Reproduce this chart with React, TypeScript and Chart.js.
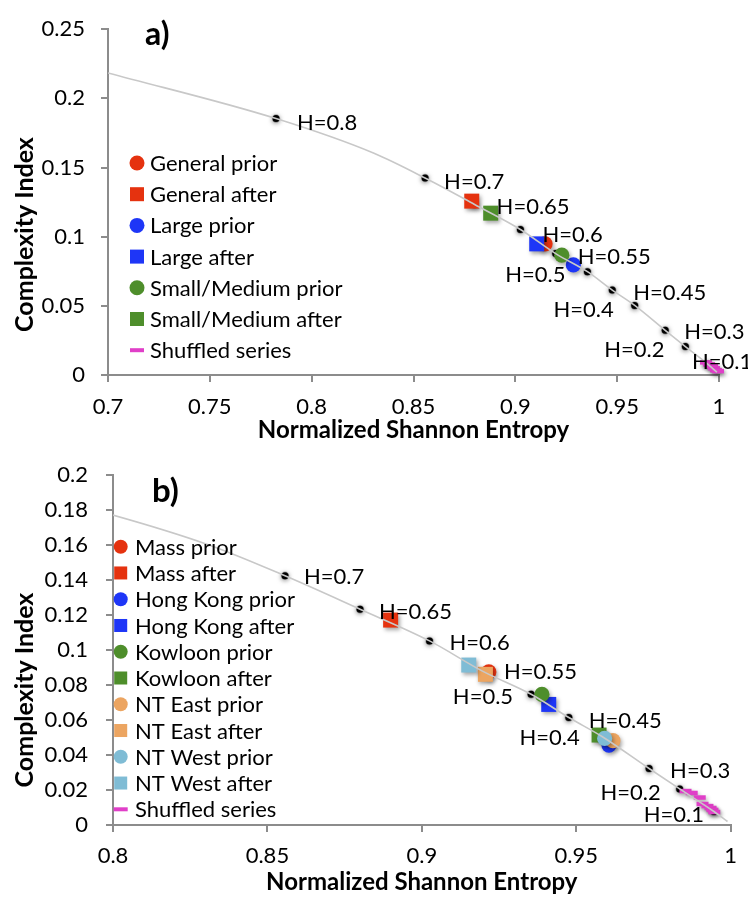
import React, { useEffect, useRef } from 'react';
import { Chart, registerables } from 'chart.js';

Chart.register(...registerables);

const FONT = 'Lato, "Open Sans", sans-serif';

// ---------- shared fBm reference curve and H markers ----------
const curveX = [0.700, 0.7825, 0.8306, 0.8557, 0.8800, 0.9025, 0.9198, 0.9354, 0.9476, 0.9586, 0.9736, 0.9835, 0.9946, 0.9990];
const curveY = [0.2184, 0.1854, 0.1603, 0.1424, 0.1233, 0.1052, 0.0878, 0.0747, 0.0614, 0.0503, 0.0323, 0.0206, 0.0077, 0.0020];

const hLabels = ['H=0.8', 'H=0.7', 'H=0.65', 'H=0.6', 'H=0.55', 'H=0.5', 'H=0.45', 'H=0.4', 'H=0.3', 'H=0.2', 'H=0.1'];
const hX = [0.7825, 0.8557, 0.8800, 0.9025, 0.9198, 0.9354, 0.9476, 0.9586, 0.9736, 0.9835, 0.9946];
const hY = [0.1854, 0.1424, 0.1233, 0.1052, 0.0878, 0.0747, 0.0614, 0.0503, 0.0323, 0.0206, 0.0077];

// ---------- panel a ----------
const aXTicks = [0.7, 0.75, 0.8, 0.85, 0.9, 0.95, 1];
const aXTickLabels = ['0.7', '0.75', '0.8', '0.85', '0.9', '0.95', '1'];
const aYTicks = [0, 0.05, 0.1, 0.15, 0.2, 0.25];
const aYTickLabels = ['0', '0.05', '0.1', '0.15', '0.2', '0.25'];
const aSeriesNames = ['General prior', 'General after', 'Large prior', 'Large after', 'Small/Medium prior', 'Small/Medium after'];
const aSeriesX = [0.9146, 0.8786, 0.9285, 0.9105, 0.9228, 0.8879];
const aSeriesY = [0.0948, 0.1257, 0.0796, 0.0948, 0.0866, 0.1170];
const aShuffledX = [0.9936, 0.9951, 0.9966, 0.9975, 0.9985, 0.9995];
const aShuffledY = [0.0091, 0.0077, 0.0063, 0.0049, 0.0035, 0.0028];

// ---------- panel b ----------
const bXTicks = [0.8, 0.85, 0.9, 0.95, 1];
const bXTickLabels = ['0.8', '0.85', '0.9', '0.95', '1'];
const bYTicks = [0, 0.02, 0.04, 0.06, 0.08, 0.1, 0.12, 0.14, 0.16, 0.18, 0.2];
const bYTickLabels = ['0', '0.02', '0.04', '0.06', '0.08', '0.1', '0.12', '0.14', '0.16', '0.18', '0.2'];
const bSeriesNames = ['Mass prior', 'Mass after', 'Hong Kong prior', 'Hong Kong after', 'Kowloon prior', 'Kowloon after', 'NT East prior', 'NT East after', 'NT West prior', 'NT West after'];
const bSeriesX = [0.9217, 0.8899, 0.9606, 0.9411, 0.9389, 0.9574, 0.9619, 0.9206, 0.9592, 0.9152];
const bSeriesY = [0.0875, 0.1171, 0.0457, 0.0689, 0.0746, 0.0514, 0.0482, 0.0861, 0.0495, 0.0914];
const bShuffledX = [0.9854, 0.9874, 0.9900, 0.9909, 0.9925, 0.9935, 0.9941, 0.9947];
const bShuffledY = [0.0194, 0.0183, 0.0157, 0.0120, 0.0108, 0.0097, 0.0086, 0.0074];

// ---------- styles ----------
const RED = '#E5320F';
const BLUE = '#1E36F7';
const GREEN = '#4E8E2B';
const ORANGE = '#ECA561';
const LBLUE = '#7FBCD5';
const PINK = '#E03FC8';
const CURVE = '#c8c8c8';
const AXIS = '#8c8c8c';
const TEXT_SIZE = 22;

type Shape = 'circle' | 'rect';
const aStyles: [string, Shape][] = [[RED, 'circle'], [RED, 'rect'], [BLUE, 'circle'], [BLUE, 'rect'], [GREEN, 'circle'], [GREEN, 'rect']];
const bStyles: [string, Shape][] = [[RED, 'circle'], [RED, 'rect'], [BLUE, 'circle'], [BLUE, 'rect'], [GREEN, 'circle'], [GREEN, 'rect'], [ORANGE, 'circle'], [ORANGE, 'rect'], [LBLUE, 'circle'], [LBLUE, 'rect']];

type Place = [number, number, CanvasTextAlign];
const aLabelPlace: Record<string, Place> = {
  'H=0.8': [21, 4, 'left'], 'H=0.7': [19, 4, 'left'], 'H=0.65': [22, 2, 'left'], 'H=0.6': [22, 5, 'left'],
  'H=0.55': [22, 3, 'left'], 'H=0.5': [-22, 3, 'right'], 'H=0.45': [21, 3, 'left'], 'H=0.4': [-21, 4, 'right'],
  'H=0.3': [19, 2, 'left'], 'H=0.2': [-21, 3, 'right'], 'H=0.1': [-16, -2, 'left'],
};
const bLabelPlace: Record<string, Place> = {
  'H=0.7': [19, 1, 'left'], 'H=0.65': [19, 3, 'left'], 'H=0.6': [20, 2, 'left'], 'H=0.55': [21, 1, 'left'],
  'H=0.5': [-18, 3, 'right'], 'H=0.45': [20, 3, 'left'], 'H=0.4': [-23, 1, 'right'], 'H=0.3': [21, 2, 'left'],
  'H=0.2': [-19, 4, 'right'], 'H=0.1': [-10, 3, 'right'],
};

interface PanelSpec {
  height: number;
  padding: { left: number; right: number; top: number; bottom: number };
  yAxisWidth: number; xAxisHeight: number;
  xMin: number; xMax: number; yMin: number; yMax: number;
  xTicks: number[]; xTickLabels: string[]; yTicks: number[]; yTickLabels: string[];
  xTickPad: number; yTickPad: number; xTitlePadBottom: number;
  names: string[]; sx: number[]; sy: number[]; styles: [string, Shape][];
  shX: number[]; shY: number[];
  place: Record<string, Place>;
  legend: { mx: number; tx: number; y0: number; dy: number; circleR: number; square: number };
  letter: string; letterX: number; letterY: number; letterSize: number;
  yTitleX: number; yTitleY: number;
}

const panelA: PanelSpec = {
  height: 455, padding: { left: 0, right: 29, top: 19, bottom: 0 }, yAxisWidth: 108, xAxisHeight: 80,
  xMin: 0.7, xMax: 1, yMin: 0, yMax: 0.25,
  xTicks: aXTicks, xTickLabels: aXTickLabels, yTicks: aYTicks, yTickLabels: aYTickLabels,
  xTickPad: 12, yTickPad: 16, xTitlePadBottom: 10,
  names: aSeriesNames, sx: aSeriesX, sy: aSeriesY, styles: aStyles, shX: aShuffledX, shY: aShuffledY,
  place: aLabelPlace,
  legend: { mx: 137, tx: 150, y0: 163, dy: 31.2, circleR: 7.5, square: 14 },
  letter: 'a)', letterX: 145, letterY: 35, letterSize: 32, yTitleX: 33, yTitleY: 234.5,
};

const panelB: PanelSpec = {
  height: 458, padding: { left: 0, right: 17, top: 35, bottom: 0 }, yAxisWidth: 113, xAxisHeight: 73,
  xMin: 0.8, xMax: 1, yMin: 0, yMax: 0.2,
  xTicks: bXTicks, xTickLabels: bXTickLabels, yTicks: bYTicks, yTickLabels: bYTickLabels,
  xTickPad: 11, yTickPad: 18, xTitlePadBottom: 1,
  names: bSeriesNames, sx: bSeriesX, sy: bSeriesY, styles: bStyles, shX: bShuffledX, shY: bShuffledY,
  place: bLabelPlace,
  legend: { mx: 120.7, tx: 135, y0: 106.7, dy: 26.26, circleR: 7, square: 13 },
  letter: 'b)', letterX: 152, letterY: 51.7, letterSize: 33, yTitleX: 33, yTitleY: 250,
};

function makeDecor(p: PanelSpec) {
  return {
    id: 'decor',
    beforeDatasetDraw(chart: any, args: any) {
      const ds = chart.data.datasets[args.index];
      const ctx = chart.ctx;
      ctx.save();
      if (ds.shadowKind === 'marker') {
        ctx.shadowColor = 'rgba(0,0,0,0.35)';
        ctx.shadowBlur = 4;
        ctx.shadowOffsetX = 1.5;
        ctx.shadowOffsetY = 2.5;
      } else if (ds.shadowKind === 'dot') {
        ctx.shadowColor = 'rgba(0,0,0,0.5)';
        ctx.shadowBlur = 5;
        ctx.shadowOffsetX = 0;
        ctx.shadowOffsetY = 1;
      }
    },
    afterDatasetDraw(chart: any) {
      chart.ctx.restore();
    },
    afterDatasetsDraw(chart: any) {
      const { ctx, scales } = chart;
      const xs = scales.x;
      const ys = scales.y;
      ctx.save();
      // H labels
      ctx.fillStyle = '#000';
      ctx.font = `${TEXT_SIZE}px ${FONT}`;
      ctx.textBaseline = 'middle';
      hLabels.forEach((lab, i) => {
        const xv = hX[i];
        if (xv < p.xMin || xv > p.xMax) return;
        const pl = p.place[lab];
        if (!pl) return;
        const px = xs.getPixelForValue(xv);
        const py = ys.getPixelForValue(hY[i]);
        ctx.textAlign = pl[2];
        ctx.fillText(lab, px + pl[0], py + pl[1]);
      });
      // legend
      const L = p.legend;
      ctx.textAlign = 'left';
      const items: { name: string; color: string; shape: string }[] = p.names.map((n, i) => ({ name: n, color: p.styles[i][0], shape: p.styles[i][1] }));
      items.push({ name: 'Shuffled series', color: PINK, shape: 'dash' });
      items.forEach((it, i) => {
        const y = L.y0 + i * L.dy;
        ctx.fillStyle = it.color;
        if (it.shape === 'circle') {
          ctx.beginPath();
          ctx.arc(L.mx, y, L.circleR, 0, Math.PI * 2);
          ctx.fill();
        } else if (it.shape === 'rect') {
          ctx.fillRect(L.mx - L.square / 2, y - L.square / 2, L.square, L.square);
        } else {
          ctx.fillRect(L.mx - 7, y - 2, 14, 4);
        }
        ctx.fillStyle = '#000';
        ctx.fillText(it.name, L.tx, y + 1);
      });
      // panel letter
      ctx.font = `bold ${p.letterSize}px ${FONT}`;
      ctx.fillText(p.letter, p.letterX, p.letterY);
      // y title
      ctx.translate(p.yTitleX, p.yTitleY);
      ctx.rotate(-Math.PI / 2);
      ctx.font = `bold 25px ${FONT}`;
      ctx.textAlign = 'center';
      ctx.textBaseline = 'alphabetic';
      ctx.fillText('Complexity Index', 0, 0);
      ctx.restore();
    },
  };
}

function buildConfig(p: PanelSpec): any {
  const datasets: any[] = [];
  datasets.push({
    label: 'curve',
    data: curveX.map((x, i) => ({ x, y: curveY[i] })),
    showLine: true,
    borderColor: CURVE,
    borderWidth: 1.6,
    pointRadius: 0,
    cubicInterpolationMode: 'monotone',
    order: 0,
  });
  datasets.push({
    label: 'Shuffled series',
    data: p.shX.map((x, i) => ({ x, y: p.shY[i] })),
    pointStyle: 'line',
    pointRadius: 6,
    borderColor: PINK,
    pointBorderColor: PINK,
    pointBorderWidth: 4.5,
    pointBackgroundColor: PINK,
    clip: false,
    order: 1,
    shadowKind: 'marker',
  });
  const n = p.names.length;
  p.names.forEach((name, i) => {
    const [color, shape] = p.styles[i];
    datasets.push({
      label: name,
      data: [{ x: p.sx[i], y: p.sy[i] }],
      pointStyle: shape,
      pointRadius: shape === 'rect' ? 10.6 : 7.6,
      pointBackgroundColor: color,
      pointBorderColor: color,
      pointBorderWidth: 0,
      clip: false,
      order: 10 + (n - i),
      shadowKind: 'marker',
    });
  });
  datasets.push({
    label: 'H',
    data: hX.map((x, i) => ({ x, y: hY[i] })),
    pointRadius: 3.5,
    pointBackgroundColor: '#000',
    pointBorderColor: 'rgba(0,0,0,0.25)',
    pointBorderWidth: 1.5,
    order: 100,
    shadowKind: 'dot',
  });

  const tickFont = { family: FONT, size: TEXT_SIZE };
  return {
    type: 'scatter',
    data: { datasets },
    options: {
      responsive: false,
      animation: false,
      events: [],
      layout: { padding: p.padding },
      plugins: { legend: { display: false }, tooltip: { enabled: false } },
      scales: {
        x: {
          type: 'linear',
          min: p.xMin,
          max: p.xMax,
          afterBuildTicks: (s: any) => { s.ticks = p.xTicks.map((v) => ({ value: v })); },
          afterFit: (s: any) => { s.height = p.xAxisHeight; },
          ticks: {
            callback: (_v: any, i: number) => p.xTickLabels[i],
            font: tickFont,
            color: '#000',
            padding: p.xTickPad,
            maxRotation: 0,
            autoSkip: false,
          },
          grid: { display: true, drawOnChartArea: false, drawTicks: true, tickLength: 7, color: AXIS, lineWidth: 2 },
          border: { display: true, color: AXIS, width: 2 },
          title: {
            display: true,
            text: 'Normalized Shannon Entropy',
            color: '#000',
            font: { family: FONT, size: 24, weight: 'bold' },
            padding: { top: 0, bottom: p.xTitlePadBottom },
          },
        },
        y: {
          type: 'linear',
          min: p.yMin,
          max: p.yMax,
          afterBuildTicks: (s: any) => { s.ticks = p.yTicks.map((v) => ({ value: v })); },
          afterFit: (s: any) => { s.width = p.yAxisWidth; },
          ticks: {
            callback: (_v: any, i: number) => p.yTickLabels[i],
            font: tickFont,
            color: '#000',
            padding: p.yTickPad,
            autoSkip: false,
          },
          grid: { display: true, drawOnChartArea: false, drawTicks: true, tickLength: 7, color: AXIS, lineWidth: 2 },
          border: { display: true, color: AXIS, width: 2 },
          title: { display: false },
        },
      },
    },
    plugins: [makeDecor(p)],
  };
}

function Panel({ spec, top }: { spec: PanelSpec; top: number }) {
  const ref = useRef<HTMLCanvasElement>(null);
  useEffect(() => {
    if (!ref.current) return;
    const chart = new Chart(ref.current, buildConfig(spec));
    return () => chart.destroy();
  }, [spec]);
  return (
    <div style={{ position: 'absolute', left: 0, top, width: 748, height: spec.height }}>
      <canvas ref={ref} width={748} height={spec.height} style={{ display: 'block', width: 748, height: spec.height }} />
    </div>
  );
}

export default function App() {
  return (
    <div style={{ position: 'absolute', left: 0, top: 0, width: 748, height: 898, background: '#fff', overflow: 'hidden' }}>
      <Panel spec={panelA} top={0} />
      <Panel spec={panelB} top={440} />
    </div>
  );
}
